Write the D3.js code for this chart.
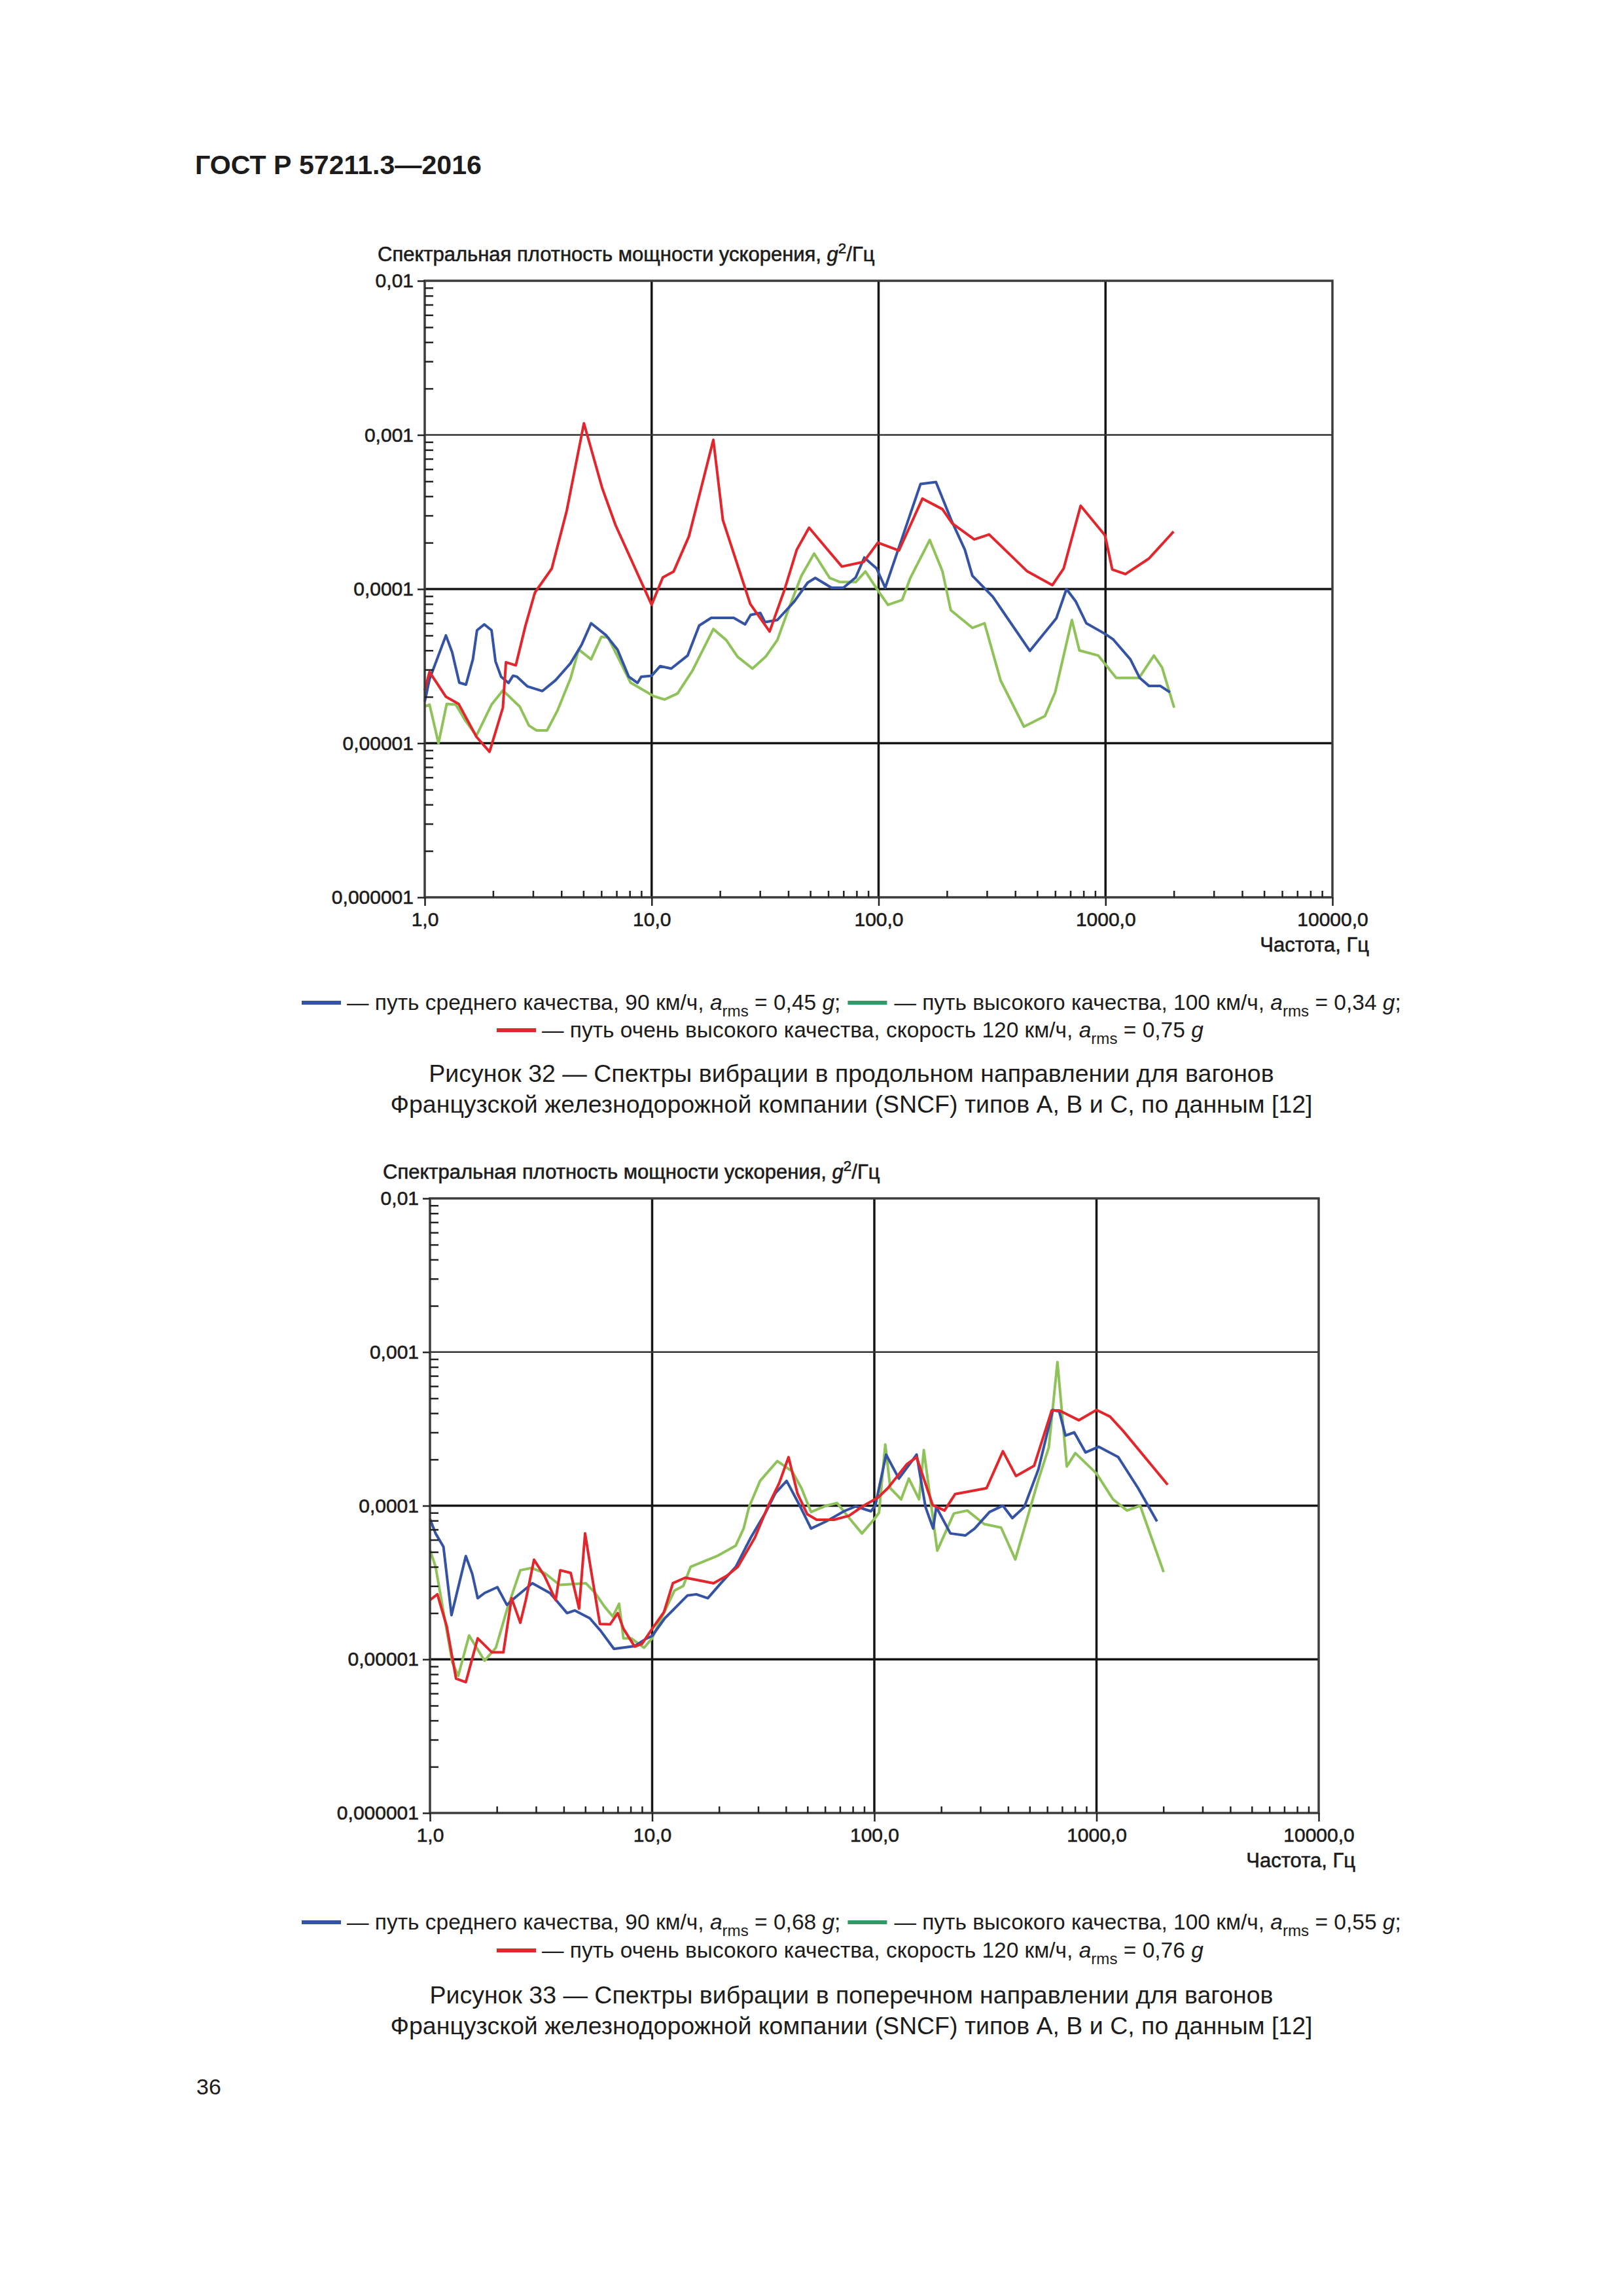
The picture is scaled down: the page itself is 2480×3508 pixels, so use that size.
<!DOCTYPE html>
<html>
<head>
<meta charset="utf-8">
<script src="https://d3js.org/d3.v7.min.js"></script>
<style>
  body {margin: 0; background: #fff;}
  text {font-family: "Liberation Sans", Arial, sans-serif; fill: #1c1c1c; white-space: pre;}
  .chart text {stroke: #1c1c1c; stroke-width: 0.6;}
</style>
</head>
<body>
<script>
// axis ticks, same on both figures
const xTicks = [1, 10, 100, 1000, 10000],
      xTickLabels = ["1,0", "10,0", "100,0", "1000,0", "10000,0"],
      yTicks = [1e-6, 1e-5, 1e-4, 1e-3, 1e-2],
      yTickLabels = ["0,000001", "0,00001", "0,0001", "0,001", "0,01"];

// Figure 32 (longitudinal), [frequency Hz, PSD g^2/Hz]
const fig32Blue = [[1.0,1.86e-5],[1.05,2.6e-5],[1.24,5.0e-5],[1.32,3.9e-5],[1.42,2.47e-5],[1.52,2.4e-5],[1.63,3.5e-5],[1.70,5.4e-5],[1.83,5.9e-5],[1.97,5.4e-5],[2.05,3.4e-5],[2.17,2.7e-5],[2.34,2.46e-5],[2.45,2.74e-5],[2.55,2.7e-5],[2.83,2.34e-5],[3.30,2.18e-5],[3.77,2.56e-5],[4.39,3.3e-5],[4.92,4.37e-5],[5.41,6.0e-5],[6.31,5.0e-5],[7.07,4.05e-5],[7.93,2.7e-5],[8.66,2.46e-5],[9.0,2.7e-5],[10,2.74e-5],[10.9,3.16e-5],[12.2,3.05e-5],[14.4,3.7e-5],[16.2,5.8e-5],[18.3,6.5e-5],[23.0,6.5e-5],[25.8,5.9e-5],[27.3,6.8e-5],[30.1,7.0e-5],[31.6,6.1e-5],[35.8,6.3e-5],[42.5,8.3e-5],[48.7,1.1e-4],[52.6,1.18e-4],[62.0,1.02e-4],[70,1.02e-4],[79.3,1.19e-4],[86.5,1.6e-4],[98,1.36e-4],[107,1.02e-4],[153,4.8e-4],[179,4.95e-4],[210,2.76e-4],[240,1.8e-4],[259,1.22e-4],[319,8.9e-5],[464,3.97e-5],[607,6.45e-5],[673,1.0e-4],[740,8.3e-5],[823,6.0e-5],[1000,5.1e-5],[1083,4.7e-5],[1287,3.5e-5],[1415,2.65e-5],[1556,2.35e-5],[1746,2.35e-5],[1922,2.14e-5]];
const fig32Green = [[1.0,1.73e-5],[1.05,1.78e-5],[1.15,1.0e-5],[1.25,1.8e-5],[1.37,1.78e-5],[1.51,1.4e-5],[1.69,1.12e-5],[1.97,1.78e-5],[2.21,2.2e-5],[2.62,1.73e-5],[2.88,1.3e-5],[3.11,1.21e-5],[3.46,1.21e-5],[3.84,1.62e-5],[4.39,2.63e-5],[4.77,4.05e-5],[5.41,3.5e-5],[6.0,4.9e-5],[6.43,4.85e-5],[8.08,2.47e-5],[10.2,2.02e-5],[11.4,1.92e-5],[13.0,2.1e-5],[15.1,2.94e-5],[18.7,5.5e-5],[21.3,4.67e-5],[23.9,3.64e-5],[27.8,3.05e-5],[31.8,3.64e-5],[35.8,4.67e-5],[40.1,7.4e-5],[45.7,1.22e-4],[52.0,1.7e-4],[60.9,1.18e-4],[67.7,1.11e-4],[79.3,1.11e-4],[87.5,1.3e-4],[99.3,9.8e-5],[110,7.9e-5],[127,8.5e-5],[138,1.18e-4],[168,2.08e-4],[191,1.31e-4],[208,7.3e-5],[259,5.6e-5],[293,6.0e-5],[345,2.55e-5],[437,1.28e-5],[541,1.5e-5],[600,2.14e-5],[711,6.3e-5],[767,4.0e-5],[930,3.7e-5],[1115,2.65e-5],[1405,2.65e-5],[1634,3.7e-5],[1775,3.1e-5],[2007,1.7e-5]];
const fig32Red = [[1.0,2.2e-5],[1.05,2.9e-5],[1.24,2.0e-5],[1.41,1.8e-5],[1.69,1.1e-5],[1.93,8.8e-6],[2.21,1.7e-5],[2.28,3.35e-5],[2.52,3.2e-5],[2.78,5.8e-5],[3.06,9.5e-5],[3.63,1.36e-4],[4.22,3.2e-4],[5.03,1.19e-3],[6.06,4.5e-4],[6.93,2.6e-4],[10,7.9e-5],[11.2,1.19e-4],[12.5,1.3e-4],[14.6,2.2e-4],[18.7,9.3e-4],[20.6,2.8e-4],[27.2,8.0e-5],[33.1,5.3e-5],[38.5,9.9e-5],[43.6,1.8e-4],[49.4,2.5e-4],[68.9,1.4e-4],[85.9,1.5e-4],[99.3,2.0e-4],[123,1.78e-4],[156,3.86e-4],[191,3.3e-4],[211,2.67e-4],[264,2.1e-4],[307,2.26e-4],[450,1.31e-4],[583,1.06e-4],[654,1.36e-4],[777,3.47e-4],[995,2.23e-4],[1071,1.34e-4],[1224,1.25e-4],[1556,1.58e-4],[1995,2.36e-4]];
const fig32Arms = ["0,45", "0,34", "0,75"];

// Figure 33 (transverse)
const fig33Blue = [[1.0,8.2e-5],[1.06,6.6e-5],[1.15,5.4e-5],[1.25,1.94e-5],[1.45,4.7e-5],[1.55,3.6e-5],[1.64,2.5e-5],[1.76,2.7e-5],[2.01,2.95e-5],[2.22,2.26e-5],[2.40,2.5e-5],[2.89,3.13e-5],[3.47,2.7e-5],[4.14,2.0e-5],[4.48,2.08e-5],[5.24,1.85e-5],[5.87,1.53e-5],[6.73,1.17e-5],[8.35,1.22e-5],[9.38,1.36e-5],[10,1.42e-5],[11.4,1.85e-5],[14.4,2.6e-5],[15.8,2.65e-5],[17.8,2.5e-5],[20.4,3.13e-5],[23.8,4.0e-5],[27.8,6.2e-5],[32.5,9.1e-5],[35.9,1.21e-4],[40.3,1.45e-4],[45.7,1.03e-4],[51.9,7.1e-5],[60.7,7.9e-5],[73.0,9.2e-5],[82.5,9.9e-5],[96.5,9.2e-5],[101,1.0e-4],[113,2.15e-4],[129,1.5e-4],[155,2.15e-4],[170,9.8e-5],[184,7.1e-5],[190,9.8e-5],[220,6.6e-5],[257,6.4e-5],[283,7.1e-5],[330,9.1e-5],[379,1.0e-4],[418,8.3e-5],[473,9.8e-5],[548,1.73e-4],[636,4.2e-4],[680,4.1e-4],[725,2.86e-4],[794,3.0e-4],[893,2.22e-4],[1024,2.42e-4],[1253,2.07e-4],[1539,1.3e-4],[1700,1.01e-4],[1872,7.9e-5]];
const fig33Green = [[1.0,5.15e-5],[1.06,4.0e-5],[1.17,1.77e-5],[1.26,9.6e-6],[1.34,7.8e-6],[1.50,1.43e-5],[1.76,9.8e-6],[1.98,1.19e-5],[2.22,2.1e-5],[2.55,3.8e-5],[2.86,3.93e-5],[3.28,3.65e-5],[3.83,3.05e-5],[5.03,3.13e-5],[5.54,2.7e-5],[6.11,2.2e-5],[6.65,1.9e-5],[7.1,2.3e-5],[7.43,1.37e-5],[8.05,1.37e-5],[9.2,1.19e-5],[10,1.37e-5],[10.7,1.7e-5],[12.6,2.8e-5],[13.8,3.0e-5],[14.9,4.0e-5],[19.6,4.7e-5],[23.8,5.5e-5],[25.8,7.1e-5],[27.3,9.8e-5],[30.6,1.45e-4],[36.6,1.95e-4],[42.7,1.67e-4],[47.0,1.3e-4],[51.9,9.1e-5],[60.7,1.0e-4],[68.0,1.04e-4],[79.3,7.9e-5],[88,6.6e-5],[100,8.2e-5],[105,9e-5],[112,2.5e-4],[118,1.3e-4],[132,1.1e-4],[143,1.5e-4],[159,1.1e-4],[167,2.3e-4],[192,5.1e-5],[228,8.9e-5],[262,9.3e-5],[312,7.6e-5],[372,7.2e-5],[431,4.47e-5],[548,1.48e-4],[610,2.4e-4],[667,8.6e-4],[735,1.8e-4],[803,2.2e-4],[1000,1.62e-4],[1187,1.1e-4],[1372,9.3e-5],[1572,1.0e-4],[2005,3.7e-5]];
const fig33Red = [[1.0,2.43e-5],[1.08,2.65e-5],[1.19,1.64e-5],[1.31,7.5e-6],[1.45,7.1e-6],[1.64,1.37e-5],[1.90,1.11e-5],[2.14,1.11e-5],[2.33,2.5e-5],[2.55,1.73e-5],[2.70,2.43e-5],[2.94,4.45e-5],[3.28,3.48e-5],[3.68,2.43e-5],[3.86,3.8e-5],[4.30,3.65e-5],[4.69,2.14e-5],[4.99,6.6e-5],[5.32,3.72e-5],[5.82,1.7e-5],[6.47,1.69e-5],[7.0,2.0e-5],[7.43,1.58e-5],[8.35,1.21e-5],[9.0,1.26e-5],[10,1.58e-5],[11.3,2.03e-5],[12.4,3.13e-5],[14.1,3.4e-5],[18.9,3.13e-5],[21.7,3.5e-5],[24.3,4.0e-5],[29.0,6.2e-5],[33.3,1.0e-4],[37.3,1.4e-4],[41.1,2.07e-4],[45.1,1.2e-4],[49.9,8.8e-5],[55.0,8.1e-5],[65.8,8.1e-5],[76.9,8.6e-5],[89.5,1.0e-4],[104,1.13e-4],[115,1.3e-4],[140,1.86e-4],[155,2.07e-4],[183,1.01e-4],[207,9.3e-5],[231,1.19e-4],[320,1.3e-4],[379,2.26e-4],[434,1.56e-4],[524,1.82e-4],[629,4.17e-4],[680,4.17e-4],[832,3.6e-4],[1000,4.2e-4],[1150,3.8e-4],[1317,3.07e-4],[2090,1.37e-4]];
const fig33Arms = ["0,68", "0,55", "0,76"];

const lineColors = {blue: "#3553a4", green: "#8fc35a", red: "#e3262c"},
      swatchColors = {blue: "#3553a4", green: "#2e9b68", red: "#e3262c"};

const svg = d3.select("body").append("svg")
    .attr("width", 2480).attr("height", 3508);
svg.append("rect").attr("width", 2480).attr("height", 3508).attr("fill", "#fff");

// text with italic / sub / superscript pieces
const richText = (g, x, y, parts, size) => {
  const t = g.append("text").attr("x", x).attr("y", y).attr("font-size", size);
  let shift = 0;
  parts.forEach(p => {
    const target = p.sub ? size * 0.3 : p.sup ? -size * 0.4 : 0;
    const s = t.append("tspan").text(p.t).attr("dy", target - shift);
    shift = target;
    if (p.sub || p.sup) s.attr("font-size", size * 0.72);
    if (p.i) s.attr("font-style", "italic");
  });
  return t;
}

const drawChart = (box, series) => {
  const x = d3.scaleLog().domain([1, 10000]).range([box.left, box.right]),
        y = d3.scaleLog().domain([1e-6, 1e-2]).range([box.bottom, box.top]);
  const g = svg.append("g").attr("class", "chart");

  g.selectAll(".vgrid").data(xTicks.slice(1, -1)).join("line")
      .attr("class", "vgrid")
      .attr("x1", d => x(d)).attr("x2", d => x(d))
      .attr("y1", box.top).attr("y2", box.bottom)
      .attr("stroke", "#151515").attr("stroke-width", 3.5);
  g.selectAll(".hgrid").data(yTicks.slice(1, -1)).join("line")
      .attr("class", "hgrid")
      .attr("x1", box.left).attr("x2", box.right)
      .attr("y1", d => y(d)).attr("y2", d => y(d))
      .attr("stroke", d => d === 1e-3 ? "#333" : "#151515")
      .attr("stroke-width", d => d === 1e-3 ? 2.5 : 3.5);

  const line = d3.line().x(d => x(d[0])).y(d => y(d[1]));
  series.forEach(s => {
    g.append("path").datum(s.data)
        .attr("d", line)
        .attr("fill", "none")
        .attr("stroke", lineColors[s.color])
        .attr("stroke-width", 4)
        .attr("stroke-linejoin", "round");
  });

  g.append("rect")
      .attr("x", box.left).attr("y", box.top)
      .attr("width", box.right - box.left).attr("height", box.bottom - box.top)
      .attr("fill", "none").attr("stroke", "#3c3c3c").attr("stroke-width", 3.5);

  const minorX = d3.range(0, 4).flatMap(k => d3.range(2, 10).map(m => m * Math.pow(10, k))),
        minorY = d3.range(-6, -2).flatMap(k => d3.range(2, 10).map(m => m * Math.pow(10, k)));

  const styleAxis = a => {
    a.select(".domain").remove();
    a.selectAll("line").attr("stroke", "#222").attr("stroke-width", 2.5);
    a.attr("font-size", 30).attr("font-family", "Liberation Sans, Arial, sans-serif");
  };

  g.append("g").attr("transform", `translate(0,${box.bottom})`)
      .call(d3.axisBottom(x).tickValues(xTicks).tickFormat((d, i) => xTickLabels[i]).tickSize(13).tickPadding(10))
      .call(styleAxis);
  g.append("g").attr("transform", `translate(0,${box.bottom})`)
      .call(d3.axisTop(x).tickValues(minorX).tickFormat("").tickSize(10))
      .call(styleAxis);
  g.append("g").attr("transform", `translate(${box.left},0)`)
      .call(d3.axisLeft(y).tickValues(yTicks).tickFormat((d, i) => yTickLabels[i]).tickSize(11).tickPadding(6))
      .call(styleAxis);
  g.append("g").attr("transform", `translate(${box.left},0)`)
      .call(d3.axisRight(y).tickValues(minorY).tickFormat("").tickSize(13))
      .call(styleAxis);

  richText(g, box.left - 72, box.top - 30, [
    {t: "Спектральная плотность мощности ускорения, "}, {t: "g", i: true}, {t: "2", sup: true}, {t: "/Гц"}
  ], 31);

  g.append("text")
      .attr("x", box.right + 56).attr("y", box.bottom + 83)
      .attr("text-anchor", "end").attr("font-size", 31)
      .text("Частота, Гц");
}

const drawLegend = (y1, y2, arms) => {
  const g = svg.append("g"), size = 33.5;
  const swatch = (x, y, c) => g.append("rect")
      .attr("x", x).attr("y", y - 3).attr("width", 60).attr("height", 6)
      .attr("fill", swatchColors[c]);

  swatch(461, y1 - 11, "blue");
  const t1 = richText(g, 530, y1, [
    {t: "— путь среднего качества, 90 км/ч, "}, {t: "a", i: true}, {t: "rms", sub: true},
    {t: " = " + arms[0] + " "}, {t: "g", i: true}, {t: ";"}
  ], size);
  const x2 = 530 + t1.node().getComputedTextLength() + 11;
  swatch(x2, y1 - 11, "green");
  richText(g, x2 + 71, y1, [
    {t: "— путь высокого качества, 100 км/ч, "}, {t: "a", i: true}, {t: "rms", sub: true},
    {t: " = " + arms[1] + " "}, {t: "g", i: true}, {t: ";"}
  ], size);

  swatch(759, y2 - 11, "red");
  richText(g, 828, y2, [
    {t: "— путь очень высокого качества, скорость 120 км/ч, "}, {t: "a", i: true}, {t: "rms", sub: true},
    {t: " = " + arms[2] + " "}, {t: "g", i: true}
  ], size);
}

const drawCaption = (y, lines) => {
  lines.forEach((l, i) => svg.append("text")
      .attr("x", 1301).attr("y", y + i * 47)
      .attr("text-anchor", "middle").attr("font-size", 37.5)
      .text(l));
}

svg.append("text")
    .attr("x", 298).attr("y", 266)
    .attr("font-size", 40).attr("font-weight", "bold")
    .attr("textLength", 438).attr("lengthAdjust", "spacingAndGlyphs")
    .text("ГОСТ Р 57211.3—2016");

drawChart({left: 649, right: 2036, top: 429, bottom: 1371}, [
  {data: fig32Green, color: "green"},
  {data: fig32Blue, color: "blue"},
  {data: fig32Red, color: "red"}
]);
drawLegend(1543, 1585, fig32Arms);
drawCaption(1653, [
  "Рисунок 32 — Спектры вибрации в продольном направлении для вагонов",
  "Французской железнодорожной компании (SNCF) типов A, B и C, по данным [12]"
]);

drawChart({left: 657, right: 2015, top: 1831, bottom: 2770}, [
  {data: fig33Green, color: "green"},
  {data: fig33Blue, color: "blue"},
  {data: fig33Red, color: "red"}
]);
drawLegend(2948, 2991, fig33Arms);
drawCaption(3061, [
  "Рисунок 33 — Спектры вибрации в поперечном направлении для вагонов",
  "Французской железнодорожной компании (SNCF) типов A, B и C, по данным [12]"
]);

svg.append("text")
    .attr("x", 300).attr("y", 3200)
    .attr("font-size", 34)
    .text("36");
</script>
</body>
</html>
